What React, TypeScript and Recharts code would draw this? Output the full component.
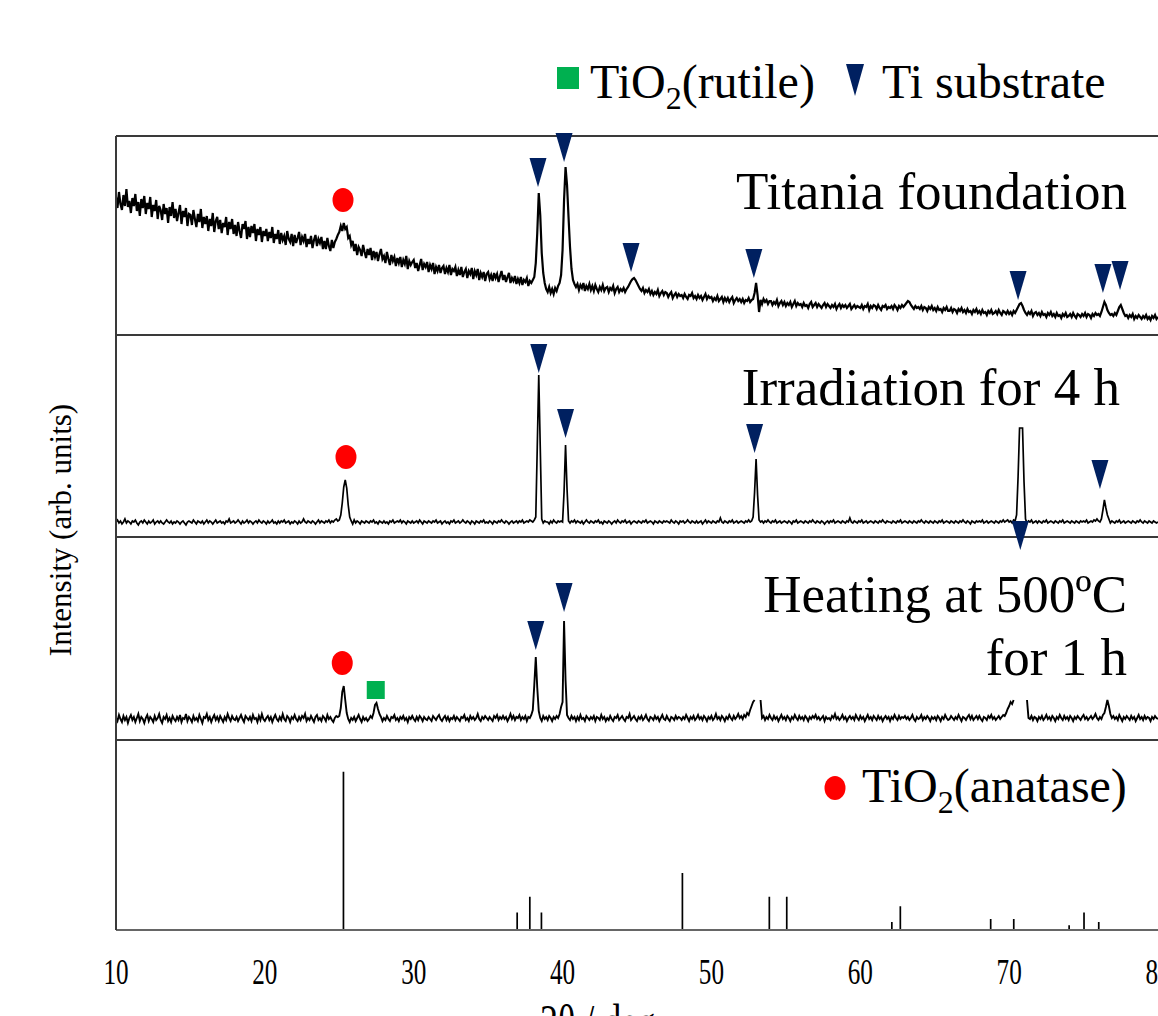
import React from 'react';
import { ComposedChart, Line, Scatter, XAxis, YAxis, ReferenceLine } from 'recharts';

// ---- scan grid (2θ, degrees) ----
const SCAN_START = 10;
const SCAN_STEP = 0.1;

// ---- intensities (arb. units), one value per 0.1° from 10.0° to 80.0° ----
const TITANIA_FOUNDATION = [
  138,127,143,131,125,140,129,146,128,134,
  122,137,129,141,124,133,119,136,127,139,
  121,132,126,138,118,130,124,135,116,129,
  125,115,131,121,127,112,128,119,133,117,
  126,114,122,130,111,124,118,127,109,121,
  120,110,125,116,108,121,113,126,107,118,
  111,119,104,116,109,122,103,114,118,106,
  115,102,112,108,118,100,113,106,116,101,
  110,99,113,104,97,111,106,114,96,108,
  98,109,102,111,94,106,100,108,93,104,
  99,106,94,103,97,108,92,101,96,105,
  91,102,95,99,90,104,96,93,101,89,
  100,92,97,103,90,98,94,101,88,96,
  91,99,87,95,100,89,96,92,98,86,
  94,86,97,89,84,95,87,93,96,100,
  103,109,104,112,106,108,97,99,90,94,
  84,91,80,88,85,79,90,83,77,86,
  80,87,75,84,78,83,74,81,86,76,
  79,72,83,76,70,80,74,78,69,77,
  72,78,68,75,71,79,66,74,70,73,
  75,67,72,64,70,76,65,71,68,73,
  63,70,66,72,61,68,64,70,62,67,
  69,61,67,63,70,60,66,64,68,59,
  65,60,68,58,63,66,57,64,61,67,
  56,64,60,66,55,62,58,63,54,61,
  63,56,60,54,62,57,61,53,59,64,
  55,60,53,58,62,52,57,54,59,51,
  56,52,58,50,55,53,57,49,54,52,
  55,58,72,102,142,120,82,62,52,46,
  43,48,42,46,41,47,44,49,52,60,
  85,135,168,150,118,88,66,55,51,48,
  51,45,50,47,52,44,49,46,51,45,
  49,44,50,46,43,48,45,50,44,47,
  48,43,47,45,49,42,46,48,43,46,
  44,47,43,46,48,51,54,56,57,55,
  52,49,46,44,47,42,45,43,46,41,
  44,40,43,41,45,39,42,44,40,43,
  42,38,41,43,37,40,42,38,41,39,
  40,37,41,38,36,40,39,42,37,39,
  36,40,37,39,35,38,41,36,39,37,
  38,34,37,35,39,34,36,38,33,37,
  34,37,33,36,38,32,35,37,34,36,
  33,36,32,35,34,37,33,35,36,42,
  52,40,23,35,31,36,33,35,31,34,
  34,30,33,31,35,29,32,34,30,33,
  29,32,30,33,28,31,34,29,32,30,
  31,28,32,29,30,27,31,33,28,30,
  32,28,31,29,27,30,32,28,31,29,
  27,30,28,31,26,29,31,27,30,28,
  30,27,29,31,26,28,30,27,29,28,
  27,30,26,29,28,31,25,29,27,30,
  29,26,30,27,25,29,28,30,26,28,
  27,29,26,30,28,25,29,27,30,28,
  30,32,34,33,30,28,26,29,27,28,
  26,29,25,28,27,24,28,26,29,25,
  27,24,28,25,26,23,27,25,28,24,
  24,27,23,26,25,22,26,24,27,23,
  25,22,26,23,24,21,25,23,26,22,
  24,21,25,22,23,20,24,22,25,21,
  22,24,21,25,22,20,24,23,21,24,
  21,23,20,24,22,25,28,31,32,29,
  25,22,20,23,21,24,19,22,23,20,
  22,19,23,20,21,18,22,20,23,19,
  21,18,22,19,20,17,21,19,22,18,
  19,21,18,22,19,17,21,20,18,21,
  19,22,18,21,20,17,21,19,22,20,
  21,19,23,28,33,30,25,22,20,21,
  19,22,20,24,28,30,26,22,19,20,
  17,20,18,21,16,19,17,20,18,16,
  19,17,20,16,18,15,19,17,20,16,
  18,
];

const IRRADIATION_4H = [
  15,17,14,16,13,15,18,14,16,15,
  13,16,15,17,14,12,15,16,14,17,
  15,13,16,14,15,17,13,15,16,14,
  16,14,13,15,17,15,14,16,13,15,
  14,16,15,13,15,16,14,12,15,16,
  15,14,17,15,13,16,15,14,16,13,
  15,17,14,16,15,13,15,17,14,15,
  16,14,15,13,16,15,18,14,15,16,
  14,15,17,15,13,16,14,15,17,14,
  16,15,13,15,16,14,17,15,14,16,
  15,13,16,14,15,17,14,15,13,16,
  14,16,15,17,14,15,16,13,15,14,
  16,15,13,16,14,15,18,15,14,16,
  15,14,16,15,13,15,17,14,16,15,
  14,16,15,17,14,16,15,17,18,16,
  17,22,34,50,57,49,32,20,16,13,
  17,14,16,15,13,16,15,14,16,15,
  14,16,15,17,14,15,13,16,15,14,
  16,14,15,13,16,15,17,14,15,16,
  15,17,14,16,15,13,16,15,14,16,
  14,15,16,14,17,15,13,16,15,14,
  16,15,14,16,15,17,14,15,16,13,
  15,16,14,15,13,16,15,17,14,15,
  16,14,15,17,15,14,16,15,13,16,
  15,13,16,15,14,16,15,17,14,15,
  14,16,15,13,16,15,14,16,15,17,
  15,14,16,15,13,15,16,14,15,16,
  14,16,15,17,14,15,16,15,17,16,
  15,17,20,90,162,90,18,14,16,15,
  15,13,16,14,17,15,14,16,15,16,
  15,45,92,48,16,14,16,15,17,14,
  16,15,14,16,13,15,17,15,14,16,
  15,14,16,15,17,14,15,13,16,15,
  14,16,15,13,15,16,14,17,15,14,
  16,15,17,14,15,16,13,15,16,15,
  14,16,15,14,16,15,17,14,15,16,
  15,13,16,15,14,16,15,14,16,15,
  16,15,14,17,15,14,16,15,13,16,
  15,16,14,15,17,15,14,16,15,14,
  16,14,15,16,13,15,17,14,16,15,
  14,16,15,14,16,15,19,15,14,16,
  15,14,16,15,17,14,15,16,14,15,
  16,15,14,16,15,17,15,16,20,45,
  78,42,17,15,16,14,16,15,17,15,
  14,16,15,17,14,15,16,14,15,16,
  15,14,16,15,13,16,15,17,14,15,
  16,15,14,16,15,14,16,15,17,15,
  14,16,15,14,16,15,13,15,16,14,
  16,15,17,14,15,16,15,14,16,15,
  14,16,15,19,15,14,16,15,14,16,
  15,17,14,15,16,14,15,16,15,14,
  16,15,14,16,15,17,15,14,16,15,
  15,14,16,15,14,16,15,17,14,15,
  16,15,14,16,15,14,16,15,14,16,
  15,17,15,14,16,15,14,16,15,14,
  16,15,14,16,15,17,14,15,16,15,
  14,16,15,14,16,15,14,16,15,17,
  15,14,16,15,13,16,15,14,16,15,
  16,15,17,14,15,16,14,15,16,15,
  14,16,15,14,16,15,17,15,16,17,
  15,16,14,17,16,22,60,109,109,109,
  55,18,14,16,15,17,14,15,16,14,
  16,15,14,16,15,17,14,15,16,15,
  14,16,15,14,16,15,17,14,15,16,
  15,14,16,15,14,16,15,14,16,15,
  16,15,17,14,15,16,15,17,16,18,
  16,15,18,27,37,29,22,18,14,16,
  15,14,16,15,17,14,15,16,14,15,
  16,15,14,16,15,14,16,15,17,15,
  14,16,15,14,16,15,14,16,15,14,
  15,
];

const HEATING_500C = [
  22,19,25,21,18,24,20,23,17,22,
  25,20,23,18,22,26,19,23,21,17,
  22,25,19,23,21,18,24,20,22,26,
  20,17,23,21,25,19,22,18,24,21,
  19,23,20,25,18,22,21,26,19,23,
  21,18,24,20,22,19,25,21,17,23,
  22,26,20,23,18,22,25,20,23,19,
  24,21,18,23,20,26,22,19,24,21,
  20,23,19,22,25,21,18,24,22,20,
  23,19,25,21,22,18,24,20,26,21,
  19,22,24,20,23,18,22,25,21,19,
  23,20,26,21,19,24,22,18,23,21,
  25,21,19,23,20,24,22,26,19,22,
  20,24,21,18,23,25,20,22,19,24,
  22,19,25,21,23,20,18,22,24,23,
  24,32,48,54,40,27,21,18,22,20,
  23,19,22,25,21,18,23,20,22,19,
  21,24,22,27,35,37,31,26,23,19,
  22,20,24,21,19,23,22,25,20,22,
  19,23,21,24,20,22,18,23,21,24,
  21,19,23,20,24,22,19,23,21,20,
  23,21,19,24,22,20,23,25,21,19,
  22,24,20,23,19,22,21,24,20,23,
  21,19,23,22,25,20,22,19,24,21,
  23,20,22,26,21,19,23,21,24,22,
  20,23,21,19,24,22,25,20,23,21,
  24,21,23,19,22,26,21,24,20,23,
  22,25,20,23,21,24,19,23,22,25,
  30,55,83,52,29,22,19,24,21,23,
  20,24,22,19,23,21,24,22,26,33,
  38,119,60,25,22,20,24,21,23,19,
  23,20,25,21,22,19,24,22,20,23,
  21,24,19,23,22,20,25,21,23,19,
  22,20,24,21,19,23,22,25,20,22,
  24,21,19,23,22,26,20,22,24,21,
  19,23,21,24,20,22,25,21,19,23,
  22,20,24,21,23,19,22,25,21,20,
  24,21,19,23,22,20,24,21,23,22,
  20,23,21,25,22,19,23,21,24,20,
  22,25,21,23,20,24,22,19,23,21,
  24,20,22,26,21,23,20,24,22,19,
  23,21,25,22,20,24,21,23,26,22,
  24,21,25,23,27,25,30,34,38,40,
  null,null,null,40,22,24,20,23,21,25,
  22,20,24,21,23,19,22,25,21,23,
  20,24,22,19,23,21,25,22,20,24,
  21,23,20,24,22,19,23,21,24,22,
  25,21,23,20,22,24,19,23,21,22,
  20,24,22,26,21,23,20,22,25,21,
  23,19,22,24,21,23,20,25,22,20,
  24,21,23,19,22,25,21,23,20,24,
  22,20,24,21,23,19,22,24,21,23,
  19,23,21,25,22,20,24,21,23,22,
  24,21,23,20,22,25,21,19,23,21,
  22,25,20,23,21,24,22,19,23,21,
  23,20,24,22,19,23,21,25,22,20,
  21,24,22,20,23,21,25,22,19,23,
  22,20,23,25,21,24,20,22,24,21,
  24,21,19,23,22,20,24,22,25,21,
  23,20,22,24,21,23,25,24,27,31,
  34,38,36,40,null,null,null,null,null,null,
  null,null,40,22,21,24,20,23,22,19,
  23,21,24,20,22,25,21,23,20,24,
  22,19,23,21,25,22,20,24,21,23,
  20,24,22,19,23,21,24,22,20,23,
  25,21,23,20,22,24,21,23,26,22,
  20,23,21,25,27,33,40,34,26,22,
  24,21,23,20,25,22,19,23,21,24,
  22,20,24,21,23,19,22,25,21,23,
  20,24,21,23,22,19,23,21,24,22,
  21,
];

// ---- TiO2 anatase reference pattern (stick positions and relative intensities) ----
const ANATASE_REF_2THETA = [25.28, 36.95, 37.8, 38.58, 48.05, 53.89, 55.06, 62.12, 62.69, 68.76, 70.31, 74.03, 75.03, 76.02];
const ANATASE_REF_INT = [100, 11, 21, 11, 36, 21, 21, 5, 15, 7, 7, 3, 11, 5];

// ---- peak markers (2θ, intensity at marker) ----
const P1_ANATASE = [{ x: 25.25, y: 135 }];
const P1_TI = [
  { x: 38.35, y: 148 }, { x: 40.1, y: 173 }, { x: 44.6, y: 63 }, { x: 52.85, y: 57 },
  { x: 70.6, y: 35 }, { x: 76.3, y: 42 }, { x: 77.45, y: 45 },
];
const P2_ANATASE = [{ x: 25.45, y: 80 }];
const P2_TI = [{ x: 38.4, y: 164 }, { x: 40.2, y: 99 }, { x: 52.9, y: 84 }, { x: 76.1, y: 48 }];
const P3_ANATASE = [{ x: 25.2, y: 77 }];
const P3_RUTILE = [{ x: 27.45, y: 50 }];
const P3_TI = [{ x: 38.2, y: 90 }, { x: 40.1, y: 128 }, { x: 70.75, y: 190 }];

const X_TICKS = [10, 20, 30, 40, 50, 60, 70, 80];
const X_DOMAIN = [10, 80];

const PANEL_LABELS = ['Titania foundation', 'Irradiation for 4 h', 'Heating at 500ºC', 'for 1 h'];

// ---- styling ----
const FONT = "'Liberation Serif', 'Times New Roman', serif";
const RED = '#FF0000';
const NAVY = '#002060';
const GREEN = '#00B050';
const BORDER = '#3a3a3a';
const CHART_W = 1170;

const toRows = (vals: (number | null)[]) =>
  vals.map((v, i) => ({ x: +(SCAN_START + i * SCAN_STEP).toFixed(2), y: v }));

const stickRows = ANATASE_REF_2THETA.flatMap((t, i) => [
  { x: t, y: 0 },
  { x: t, y: ANATASE_REF_INT[i] },
  { x: t, y: 0 },
]);

const Dot = (p: any) => <ellipse cx={p.cx} cy={p.cy} rx={10.5} ry={12} fill={RED} />;
const TriDown = (p: any) => (
  <path d={`M${p.cx - 8.5},${p.cy - 29}L${p.cx + 8.5},${p.cy - 29}L${p.cx},${p.cy}Z`} fill={NAVY} />
);
const Sq = (p: any) => <rect x={p.cx - 9} y={p.cy - 9} width={18} height={18} fill={GREEN} />;

const XTick = (p: any) => (
  <text
    transform={`translate(${p.x},${p.y + 46}) scale(0.72,1)`}
    textAnchor="middle"
    fontSize={35}
    fontFamily={FONT}
    fill="#000"
  >
    {p.payload.value}
  </text>
);

type PanelProps = {
  plotTop: number;
  plotHeight: number;
  yMax: number;
  values: (number | null)[];
  anatase?: { x: number; y: number }[];
  ti?: { x: number; y: number }[];
  rutile?: { x: number; y: number }[];
  lineWidth: number;
};

function TracePanel({ plotTop, plotHeight, yMax, values, anatase, ti, rutile, lineWidth }: PanelProps) {
  const rows = toRows(values);
  return (
    <div style={{ position: 'absolute', left: 0, top: plotTop - 30 }}>
      <ComposedChart width={CHART_W} height={plotHeight + 61} data={rows} margin={{ top: 30, right: 12, bottom: 30, left: 115 }}>
        <XAxis dataKey="x" type="number" domain={X_DOMAIN} tick={false} tickLine={false} height={1} axisLine={{ stroke: BORDER, strokeWidth: 2 }} />
        <YAxis type="number" domain={[0, yMax]} width={1} tick={false} tickLine={false} axisLine={{ stroke: BORDER, strokeWidth: 2 }} />
        <ReferenceLine y={yMax} stroke={BORDER} strokeWidth={2} />
        <Line dataKey="y" type="linear" stroke="#000" strokeWidth={lineWidth} strokeLinejoin="miter" dot={false} isAnimationActive={false} />
        {anatase && <Scatter data={anatase} dataKey="y" shape={Dot} isAnimationActive={false} />}
        {rutile && <Scatter data={rutile} dataKey="y" shape={Sq} isAnimationActive={false} />}
        {ti && <Scatter data={ti} dataKey="y" shape={TriDown} isAnimationActive={false} />}
      </ComposedChart>
    </div>
  );
}

export default function App() {
  return (
    <div style={{ position: 'fixed', left: 0, top: 0, width: 1158, height: 1016, overflow: 'hidden', background: '#fff' }}>
      <TracePanel plotTop={136} plotHeight={199} yMax={199} values={TITANIA_FOUNDATION} anatase={P1_ANATASE} ti={P1_TI} lineWidth={2.2} />
      <TracePanel plotTop={335} plotHeight={202} yMax={202} values={IRRADIATION_4H} anatase={P2_ANATASE} ti={P2_TI} lineWidth={1.7} />
      <TracePanel plotTop={537} plotHeight={203} yMax={203} values={HEATING_500C} anatase={P3_ANATASE} ti={P3_TI} rutile={P3_RUTILE} lineWidth={1.9} />

      <div style={{ position: 'absolute', left: 0, top: 710 }}>
        <ComposedChart width={CHART_W} height={320} data={stickRows} margin={{ top: 30, right: 12, bottom: 0, left: 115 }}>
          <XAxis dataKey="x" type="number" domain={X_DOMAIN} ticks={X_TICKS} interval={0} tick={<XTick />} tickLine={false} height={100} axisLine={{ stroke: '#666', strokeWidth: 2 }} />
          <YAxis type="number" domain={[0, 120]} width={1} tick={false} tickLine={false} axisLine={{ stroke: BORDER, strokeWidth: 2 }} />
          <ReferenceLine y={120} stroke={BORDER} strokeWidth={2} />
          <Line dataKey="y" type="linear" stroke="#000" strokeWidth={1.7} dot={false} isAnimationActive={false} />
        </ComposedChart>
      </div>

      <svg width={1158} height={1016} style={{ position: 'absolute', left: 0, top: 0, pointerEvents: 'none' }}>
        {/* top legend */}
        <rect x={557} y={67} width={22} height={22} fill={GREEN} />
        <text x={590} y={98} fontSize={48} fontFamily={FONT} fill="#000">
          TiO<tspan dy={11} fontSize={32}>2</tspan><tspan dy={-11} fontSize={48}>(rutile)</tspan>
        </text>
        <path d="M846,64L864,64L855,96Z" fill={NAVY} />
        <text x={882} y={98} fontSize={48} fontFamily={FONT} fill="#000">Ti substrate</text>

        {/* panel labels */}
        <text x={1127} y={209} textAnchor="end" fontSize={53} fontFamily={FONT} fill="#000">{PANEL_LABELS[0]}</text>
        <text x={1120} y={405} textAnchor="end" fontSize={53} fontFamily={FONT} fill="#000">{PANEL_LABELS[1]}</text>
        <text x={1127} y={612} textAnchor="end" fontSize={53} fontFamily={FONT} fill="#000">{PANEL_LABELS[2]}</text>
        <text x={1127} y={675} textAnchor="end" fontSize={53} fontFamily={FONT} fill="#000">{PANEL_LABELS[3]}</text>

        {/* reference legend */}
        <ellipse cx={835} cy={788} rx={10.5} ry={12} fill={RED} />
        <text x={862} y={802} fontSize={48} fontFamily={FONT} fill="#000">
          TiO<tspan dy={11} fontSize={32}>2</tspan><tspan dy={-11} fontSize={48}>(anatase)</tspan>
        </text>

        {/* axis titles */}
        <text transform="translate(71,530) rotate(-90)" textAnchor="middle" fontSize={31} fontFamily={FONT} fill="#000">
          Intensity (arb. units)
        </text>
        <text transform="translate(540,1038) scale(0.75,1)" fontSize={48} fontFamily={FONT} fill="#000">2θ / deg</text>
      </svg>
    </div>
  );
}
